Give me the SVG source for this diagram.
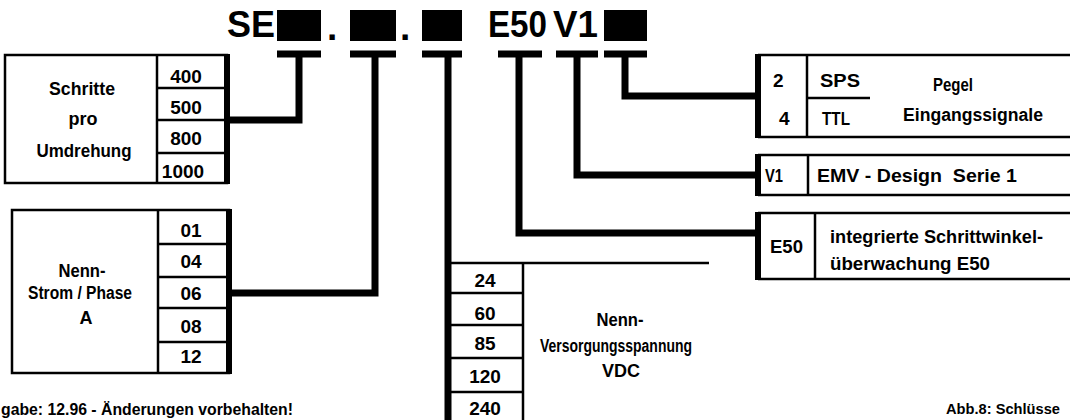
<svg xmlns="http://www.w3.org/2000/svg" width="1070" height="420" viewBox="0 0 1070 420">
<style>
.t{font-family:"Liberation Sans",Arial,Helvetica,sans-serif;font-weight:bold;fill:#000}
.v{font-size:19px;text-anchor:middle}
.l{font-size:18px;text-anchor:middle}
.r{font-size:19px}
.ttl{font-size:37px}
.box{fill:none;stroke:#000;stroke-width:2.5}
.sep{stroke:#000;stroke-width:2.5;fill:none}
.thick{stroke:#000;stroke-width:7;fill:none;stroke-linejoin:miter;stroke-linecap:butt}
.edge{stroke:#000;stroke-width:6;fill:none}
</style>
<rect width="1070" height="420" fill="#fff"/>

<g id="code">
  <text class="t ttl" x="227" y="37" textLength="48" lengthAdjust="spacingAndGlyphs">SE</text>
  <rect x="277" y="10" width="44" height="31" fill="#000"/>
  <text class="t ttl" x="327" y="40">.</text>
  <rect x="350" y="10" width="46" height="31" fill="#000"/>
  <text class="t ttl" x="400" y="40">.</text>
  <rect x="422" y="10" width="40" height="31" fill="#000"/>
  <text class="t ttl" x="488" y="37" textLength="59" lengthAdjust="spacingAndGlyphs">E50</text>
  <text class="t ttl" x="553" y="37" textLength="45" lengthAdjust="spacingAndGlyphs">V1</text>
  <rect x="604" y="10" width="43" height="31" fill="#000"/>
</g>

<g id="schritte">
  <rect class="box" x="5" y="55" width="222" height="128"/>
  <line class="sep" x1="157" y1="55" x2="157" y2="183"/>
  <line class="sep" x1="157" y1="88" x2="227" y2="88"/>
  <line class="sep" x1="157" y1="120" x2="227" y2="120"/>
  <line class="sep" x1="157" y1="153" x2="227" y2="153"/>
  <line class="edge" x1="227" y1="54" x2="227" y2="184"/>
  <text class="t l" x="82" y="95" textLength="66" lengthAdjust="spacingAndGlyphs">Schritte</text>
  <text class="t l" x="83" y="125">pro</text>
  <text class="t l" x="84" y="157" textLength="95" lengthAdjust="spacingAndGlyphs">Umdrehung</text>
  <text class="t v" x="186" y="83">400</text>
  <text class="t v" x="186" y="114">500</text>
  <text class="t v" x="186" y="145">800</text>
  <text class="t v" x="183" y="178">1000</text>
</g>

<g id="strom">
  <rect class="box" x="12" y="210" width="217" height="163"/>
  <line class="sep" x1="158" y1="210" x2="158" y2="373"/>
  <line class="sep" x1="158" y1="244" x2="229" y2="244"/>
  <line class="sep" x1="158" y1="277" x2="229" y2="277"/>
  <line class="sep" x1="158" y1="308" x2="229" y2="308"/>
  <line class="sep" x1="158" y1="342" x2="229" y2="342"/>
  <line class="edge" x1="229" y1="209" x2="229" y2="374"/>
  <text class="t l" x="82" y="277" textLength="47" lengthAdjust="spacingAndGlyphs">Nenn-</text>
  <text class="t l" x="80" y="299" textLength="104" lengthAdjust="spacingAndGlyphs">Strom / Phase</text>
  <text class="t l" x="86" y="324">A</text>
  <text class="t v" x="191" y="237">01</text>
  <text class="t v" x="191" y="268">04</text>
  <text class="t v" x="191" y="300">06</text>
  <text class="t v" x="191" y="333">08</text>
  <text class="t v" x="191" y="363">12</text>
</g>

<g id="spannung">
  <line class="sep" x1="448" y1="263" x2="709" y2="263"/>
  <line class="sep" x1="523" y1="263" x2="523" y2="420"/>
  <line class="sep" x1="448" y1="293" x2="523" y2="293"/>
  <line class="sep" x1="448" y1="325" x2="523" y2="325"/>
  <line class="sep" x1="448" y1="358" x2="523" y2="358"/>
  <line class="sep" x1="448" y1="392" x2="523" y2="392"/>
  <text class="t v" x="485" y="287">24</text>
  <text class="t v" x="485" y="320">60</text>
  <text class="t v" x="485" y="350">85</text>
  <text class="t v" x="485" y="383">120</text>
  <text class="t v" x="485" y="415">240</text>
  <text class="t l" x="620" y="326" textLength="47" lengthAdjust="spacingAndGlyphs">Nenn-</text>
  <text class="t l" x="616" y="352" textLength="152" lengthAdjust="spacingAndGlyphs">Versorgungsspannung</text>
  <text class="t l" x="621" y="377">VDC</text>
</g>

<g id="pegel">
  <line class="sep" x1="758" y1="55" x2="1070" y2="55"/>
  <line class="sep" x1="758" y1="137" x2="1070" y2="137"/>
  <line class="edge" x1="758" y1="54" x2="758" y2="138"/>
  <line class="sep" x1="807" y1="55" x2="807" y2="137"/>
  <line class="sep" x1="807" y1="98" x2="870" y2="98"/>
  <text class="t r" x="773" y="87">2</text>
  <text class="t r" x="779" y="125">4</text>
  <text class="t r" x="820" y="87" textLength="40" lengthAdjust="spacingAndGlyphs">SPS</text>
  <text class="t r" x="822" y="125" textLength="28" lengthAdjust="spacingAndGlyphs">TTL</text>
  <text class="t l" x="953" y="91" textLength="40" lengthAdjust="spacingAndGlyphs">Pegel</text>
  <text class="t l" x="973" y="121" textLength="140" lengthAdjust="spacingAndGlyphs">Eingangssignale</text>
</g>

<g id="emv">
  <line class="sep" x1="758" y1="155" x2="1070" y2="155"/>
  <line class="sep" x1="758" y1="195" x2="1070" y2="195"/>
  <line class="edge" x1="758" y1="154" x2="758" y2="196"/>
  <line class="sep" x1="808" y1="155" x2="808" y2="195"/>
  <text class="t r" x="765" y="182" textLength="18" lengthAdjust="spacingAndGlyphs">V1</text>
  <text class="t r" x="817" y="182" xml:space="preserve" textLength="200" lengthAdjust="spacingAndGlyphs">EMV - Design  Serie 1</text>
</g>

<g id="e50">
  <line class="sep" x1="758" y1="213" x2="1070" y2="213"/>
  <line class="sep" x1="758" y1="279" x2="1070" y2="279"/>
  <line class="edge" x1="758" y1="212" x2="758" y2="280"/>
  <line class="sep" x1="815" y1="213" x2="815" y2="279"/>
  <text class="t r" x="770" y="253" textLength="33" lengthAdjust="spacingAndGlyphs">E50</text>
  <text class="t r" x="830" y="243" textLength="213" lengthAdjust="spacingAndGlyphs">integrierte Schrittwinkel-</text>
  <text class="t r" x="830" y="270" textLength="160" lengthAdjust="spacingAndGlyphs">überwachung E50</text>
</g>

<g id="connectors">
  <path class="thick" d="M277 54H321M350 54H396M422 54H462M498 54H542M556 54H598M604 54H647"/>
  <path class="thick" d="M299 54V120H227"/>
  <path class="thick" d="M375 54V293H229"/>
  <path class="thick" d="M448 54V420"/>
  <path class="thick" d="M519 54V233H758"/>
  <path class="thick" d="M577 54V175H758"/>
  <path class="thick" d="M625 54V96H758"/>
</g>

<g id="notes">
  <text class="t" x="1" y="415" style="font-size:16px" textLength="292" lengthAdjust="spacingAndGlyphs">gabe: 12.96 - Änderungen vorbehalten!</text>
  <text class="t" x="946" y="414" style="font-size:15px" textLength="114" lengthAdjust="spacingAndGlyphs">Abb.8: Schlüsse</text>
</g>
</svg>
